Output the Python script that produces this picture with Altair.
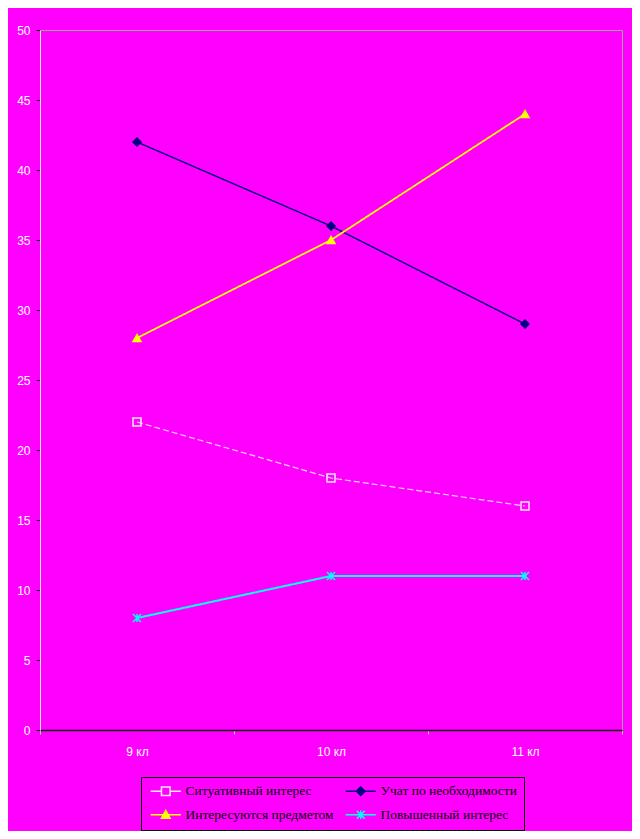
import altair as alt
import pandas as pd

classes = ["9 кл", "10 кл", "11 кл"]
series_names = ["Ситуативный интерес", "Учат по необходимости",
                "Интересуются предметом", "Повышенный интерес"]
situational = [22, 18, 16]
by_necessity = [42, 36, 29]
interested = [28, 35, 44]
heightened = [8, 11, 11]
y_ticks = list(range(0, 51, 5))

series_values = [situational, by_necessity, interested, heightened]

line_colors = ["#FFD0FF", "#000080", "#FFFF00", "#00FFFF"]
line_widths = [1.2, 2, 2, 3]
line_dashes = [[6, 3], [1, 0], [1, 0], [1, 0]]
marker_fills = ["transparent", "#000080", "#FFFF00", "#00FFFF"]
marker_strokes = ["#FFE8FF", "#000080", "#FFFF00", "#00FFFF"]
marker_shapes = ["square", "diamond", "triangle-up",
                 "M-1,-1L1,1M-1,1L1,-1M0,-1L0,1"]
legend_shapes = [
    "M-3.5,0H-1M1,0H3.5M-1,-1H1V1H-1Z",
    "M-3.5,0H3.5M0,-1L1,0L0,1L-1,0Z",
    "M-3.5,0H3.5M0,-1L1,0.8H-1Z",
    "M-3.5,0H3.5M-0.9,-0.9L0.9,0.9M-0.9,0.9L0.9,-0.9M0,-1L0,1",
]

rows = []
for name, vals in zip(series_names, series_values):
    for i, (c, v) in enumerate(zip(classes, vals)):
        rows.append({"series": name, "cls": c, "ci": i, "value": v})
df = pd.DataFrame(rows)

x_enc = alt.X(
    "cls:N", sort=classes,
    scale=alt.Scale(type="band", domain=classes, paddingInner=0, paddingOuter=0),
    axis=alt.Axis(title=None, labelAngle=0, tickBand="extent", tickSize=4,
                  tickColor="#C8C8C8", domainColor="#101010", domainWidth=1.5,
                  labelColor="#FFFFFF", labelFont="Liberation Sans",
                  labelFontSize=12, labelPadding=12, zindex=1, grid=False),
)
y_enc = alt.Y(
    "value:Q",
    scale=alt.Scale(domain=[0, 50], nice=False, zero=True),
    axis=alt.Axis(title=None, values=y_ticks, tickSize=4, tickColor="#000000",
                  domainColor="#F0F0F0", labelColor="#FFFFFF",
                  labelFont="Liberation Sans", labelFontSize=12,
                  labelPadding=6, grid=False, zindex=1),
)

base = alt.Chart(df).encode(x=x_enc, y=y_enc)

lines = base.mark_line().encode(
    color=alt.Color("series:N", scale=alt.Scale(domain=series_names, range=line_colors), legend=None),
    strokeWidth=alt.StrokeWidth("series:N", scale=alt.Scale(domain=series_names, range=line_widths), legend=None),
    strokeDash=alt.StrokeDash("series:N", scale=alt.Scale(domain=series_names, range=line_dashes), legend=None),
    order=alt.Order("ci:Q"),
)

points = base.mark_point(opacity=1, size=64, strokeWidth=1.5).encode(
    shape=alt.Shape("series:N", scale=alt.Scale(domain=series_names, range=marker_shapes), legend=None),
    fill=alt.Fill("series:N", scale=alt.Scale(domain=series_names, range=marker_fills), legend=None),
    stroke=alt.Stroke("series:N", scale=alt.Scale(domain=series_names, range=marker_strokes), legend=None),
)

leg = alt.Legend(
    title=None, orient="none", direction="horizontal", legendX=101, legendY=747,
    columns=2, columnPadding=8, rowPadding=8, padding=7, strokeColor="#000000",
    fillColor="#FF00FF", symbolOffset=11, labelOffset=13, symbolSize=74,
    symbolStrokeWidth=1.5, labelFont="Liberation Serif", labelFontSize=13.5,
    labelColor="#000000", labelLimit=300,
)

legend_layer = alt.Chart(df).transform_filter("false").mark_point(
    opacity=1, size=74, strokeWidth=1.5
).encode(
    shape=alt.Shape("series:N", scale=alt.Scale(domain=series_names, range=legend_shapes), legend=leg),
    fill=alt.Fill("series:N", scale=alt.Scale(domain=series_names, range=marker_fills), legend=leg),
    stroke=alt.Stroke("series:N", scale=alt.Scale(domain=series_names, range=marker_strokes), legend=leg),
)

chart = alt.layer(lines, points, legend_layer).resolve_scale(
    shape="independent", fill="independent", stroke="independent"
).properties(
    width=582, height=700,
    autosize=alt.AutoSizeParams(type="none"),
    padding={"left": 32, "top": 22, "right": 10, "bottom": 101},
    background="#FF00FF",
).configure_view(stroke="#A0A0A0", strokeWidth=1)

chart.save("out.html", embed_options={"renderer": "svg", "actions": False})
